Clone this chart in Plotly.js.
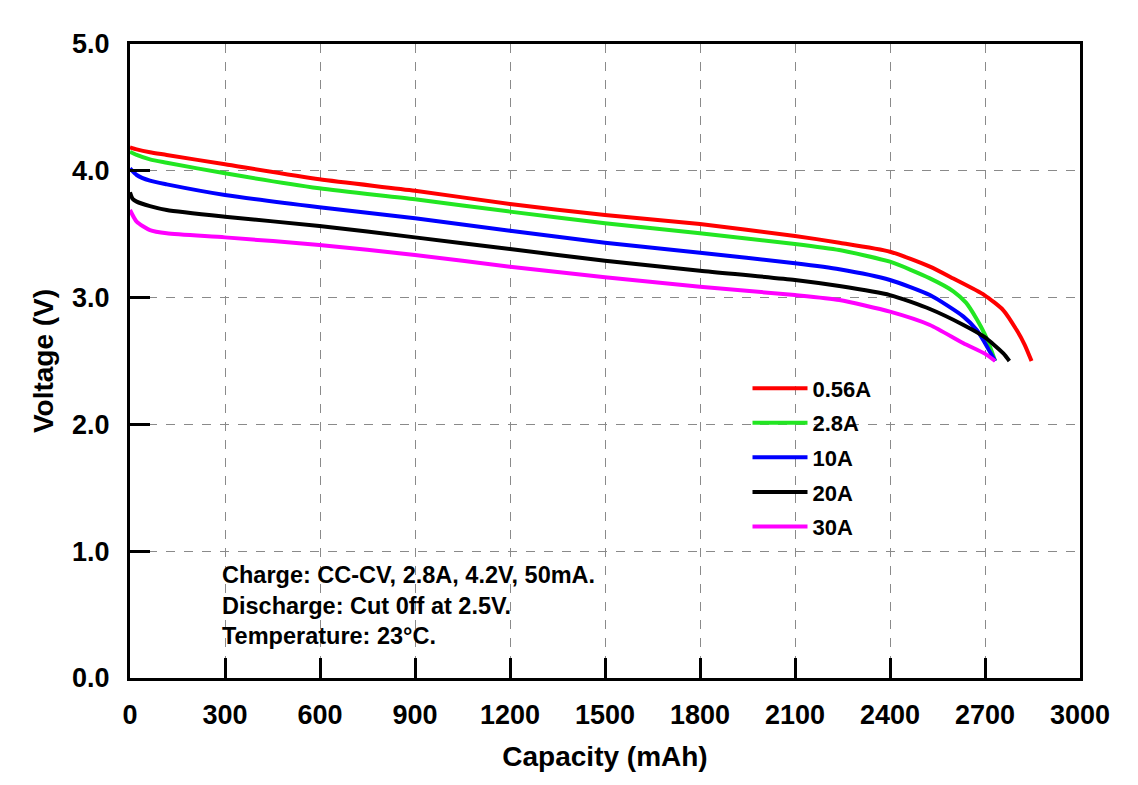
<!DOCTYPE html>
<html>
<head>
<meta charset="utf-8">
<script src="https://cdn.plot.ly/plotly-3.0.1.min.js"></script>
<style>html,body{margin:0;padding:0;background:#fff;}#chart{width:1138px;height:785px;}</style>
</head>
<body>
<div id="chart"></div>
<script>
// Discharge curves
const seriesNames = ["0.56A", "2.8A", "10A", "20A", "30A"];
const seriesColors = ["#ff0000", "#22e622", "#0000ff", "#000000", "#ff00ff"];

const cap_056A = [0, 21, 63, 116, 300, 598, 900, 1200, 1500, 1800, 2100, 2240, 2400, 2526, 2600, 2698, 2758, 2800, 2825, 2847];
const volt_056A = [4.185, 4.169, 4.146, 4.125, 4.051, 3.933, 3.843, 3.738, 3.651, 3.58, 3.486, 3.433, 3.362, 3.244, 3.15, 3.02, 2.90, 2.744, 2.63, 2.50];

const cap_28A = [0, 21, 63, 116, 300, 598, 900, 1200, 1500, 1800, 2100, 2240, 2400, 2526, 2600, 2640, 2674, 2698, 2716, 2732];
const volt_28A = [4.151, 4.125, 4.09, 4.064, 3.98, 3.862, 3.775, 3.678, 3.586, 3.507, 3.423, 3.375, 3.283, 3.152, 3.05, 2.96, 2.83, 2.718, 2.61, 2.50];

const cap_10A = [0, 21, 63, 116, 300, 598, 900, 1200, 1500, 1800, 2100, 2240, 2400, 2526, 2632, 2674, 2698, 2716, 2732];
const volt_10A = [4.019, 3.967, 3.922, 3.893, 3.809, 3.712, 3.625, 3.528, 3.433, 3.354, 3.27, 3.223, 3.139, 3.02, 2.85, 2.744, 2.65, 2.57, 2.50];

const cap_20A = [0, 8, 21, 63, 116, 300, 598, 900, 1200, 1500, 1800, 2100, 2240, 2400, 2526, 2632, 2698, 2758, 2777];
const volt_20A = [3.83, 3.78, 3.757, 3.722, 3.691, 3.638, 3.565, 3.475, 3.383, 3.291, 3.212, 3.139, 3.091, 3.02, 2.91, 2.784, 2.69, 2.56, 2.50];

const cap_30A = [0, 21, 63, 116, 300, 598, 900, 1200, 1500, 1800, 2100, 2240, 2400, 2526, 2632, 2698, 2732];
const volt_30A = [3.691, 3.599, 3.533, 3.507, 3.475, 3.415, 3.336, 3.244, 3.16, 3.086, 3.02, 2.981, 2.889, 2.784, 2.64, 2.56, 2.50];

const capacities = [cap_056A, cap_28A, cap_10A, cap_20A, cap_30A];
const voltages = [volt_056A, volt_28A, volt_10A, volt_20A, volt_30A];

const xTicks = [0, 300, 600, 900, 1200, 1500, 1800, 2100, 2400, 2700, 3000];
const yTicks = [0, 1, 2, 3, 4, 5];
const yTickLabels = ["0.0", "1.0", "2.0", "3.0", "4.0", "5.0"];

const noteLines = ["Charge: CC-CV, 2.8A, 4.2V, 50mA.", "Discharge: Cut 0ff at 2.5V.", "Temperature: 23°C."];

const FONT = "Liberation Sans, Arial, Helvetica, sans-serif";

const traces = seriesNames.map((n, i) => ({
  type: "scatter",
  mode: "lines",
  name: n,
  legendgroup: "g" + i,
  x: capacities[i],
  y: voltages[i],
  line: {color: seriesColors[i], width: 4, shape: "spline", smoothing: 0.6}
}));

const layout = {
  width: 1138,
  height: 785,
  margin: {l: 130, r: 58, t: 44, b: 107, pad: 0},
  paper_bgcolor: "#ffffff",
  plot_bgcolor: "#ffffff",
  font: {family: FONT, color: "#000000"},
  showlegend: true,
  legend: {
    x: 0.65, y: 0.49, xanchor: "left", yanchor: "top",
    bgcolor: "rgba(0,0,0,0)",
    font: {family: FONT, size: 22, color: "#000", weight: "bold"},
    traceorder: "grouped",
    tracegroupgap: 3,
    itemwidth: 55
  },
  xaxis: {
    range: [0, 3000],
    tickvals: xTicks,
    ticktext: xTicks.map(String),
    ticks: "inside", ticklen: 20, tickwidth: 3, tickcolor: "#000",
    showline: true, linewidth: 3, linecolor: "#000", mirror: true,
    showgrid: true, gridcolor: "#8a8a8a", gridwidth: 1, griddash: "dash",
    zeroline: false,
    tickfont: {family: FONT, size: 27, color: "#000", weight: "bold"},
    ticklabelstandoff: 11,
    title: {text: "Capacity (mAh)", font: {family: FONT, size: 28, color: "#000", weight: "bold"}, standoff: 17}
  },
  yaxis: {
    range: [0, 5],
    tickvals: yTicks,
    ticktext: yTickLabels,
    ticks: "inside", ticklen: 20, tickwidth: 3, tickcolor: "#000",
    showline: true, linewidth: 3, linecolor: "#000", mirror: true,
    showgrid: true, gridcolor: "#8a8a8a", gridwidth: 1, griddash: "dash",
    zeroline: false,
    tickfont: {family: FONT, size: 27, color: "#000", weight: "bold"},
    ticklabelstandoff: 12,
    title: {text: "Voltage (V)", font: {family: FONT, size: 28, color: "#000", weight: "bold"}, standoff: 11}
  },
  annotations: [{
    xref: "paper", yref: "paper",
    x: 0.095, y: 0.115, xanchor: "left", yanchor: "middle", align: "left",
    showarrow: false,
    text: noteLines.join("<br>"),
    font: {family: FONT, size: 23.5, color: "#000", weight: "bold"}
  }]
};

Plotly.newPlot("chart", traces, layout, {displayModeBar: false, staticPlot: true});
</script>
</body>
</html>
